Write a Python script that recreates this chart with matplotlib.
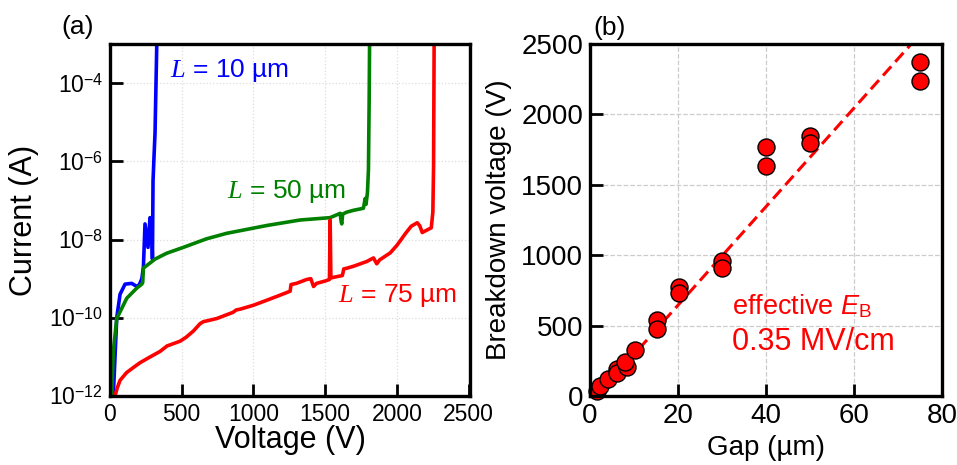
import numpy as np
import matplotlib
matplotlib.use("Agg")
import matplotlib.pyplot as plt

plt.rcParams['font.family'] = ['Liberation Sans', 'DejaVu Sans']
plt.rcParams['mathtext.fontset'] = 'custom'
plt.rcParams['mathtext.rm'] = 'Liberation Sans'
plt.rcParams['mathtext.it'] = 'Liberation Serif:italic'
plt.rcParams['mathtext.sf'] = 'Liberation Sans:italic'
plt.rcParams['mathtext.bf'] = 'Liberation Sans'

# ---- Panel (a) data: voltage (V), log10 current (A) ----
v_10um = [23, 47, 70, 105, 151, 187, 205, 222, 233, 244, 265, 279, 291, 296, 300, 307, 314, 326, 330]
logi_10um = [-12, -10.0, -9.4, -9.14, -9.12, -9.2, -9.15, -9.0, -8.7, -7.6, -8.2, -7.44, -7.7, -8.5, -6.5,
             -5.87, -5.27, -3.03, -2.9]

v_50um = [12, 23, 47, 117, 187, 222, 228, 233, 314, 395, 511, 674, 814, 1094, 1326, 1535, 1605, 1612, 1616,
          1622, 1650, 1700, 1767, 1779, 1785, 1795, 1802, 1807, 1810]
logi_50um = [-12, -10.86, -10.02, -9.5, -9.24, -9.14, -9.1, -8.73, -8.5, -8.35, -8.2, -7.98, -7.84, -7.64,
             -7.5, -7.44, -7.33, -7.55, -7.6, -7.35, -7.3, -7.25, -7.2, -6.95, -7.1, -6.8, -6.21, -4.41, -2.9]

v_75um = [35, 50, 70, 116, 160, 209, 280, 349, 398, 488, 530, 581, 628, 651, 744, 858, 880, 907, 1000, 1094,
          1180, 1256, 1262, 1300, 1372, 1400, 1419, 1440, 1500, 1530, 1535, 1540, 1620, 1630, 1654, 1700, 1791,
          1837, 1860, 1880, 1954, 2000, 2024, 2059, 2100, 2142, 2160, 2177, 2219, 2240, 2251, 2256, 2260]
logi_75um = [-12, -11.8, -11.6, -11.4, -11.28, -11.15, -11.0, -10.86, -10.72, -10.6, -10.5, -10.34, -10.15,
             -10.1, -10.02, -9.86, -9.8, -9.78, -9.68, -9.55, -9.43, -9.32, -9.15, -9.12, -9.02, -9.0, -9.2,
             -9.12, -9.06, -9.02, -7.5, -8.98, -8.92, -8.75, -8.73, -8.68, -8.56, -8.47, -8.62, -8.52, -8.34,
             -8.15, -8.03, -7.85, -7.66, -7.57, -7.65, -7.82, -7.74, -7.7, -7.3, -6.13, -2.9]

# ---- Panel (b) data: gap (um), breakdown voltage (V) ----
gap_um = [1.5, 2.3, 4.1, 6.1, 6.1, 8.4, 8.0, 10.2, 15.2, 15.2, 20.2, 20.2, 30.1, 30.1, 40.1, 40.1, 50, 50, 74.9, 74.9]
vbd = [36, 71, 120, 190, 166, 206, 241, 327, 540, 476, 776, 733, 958, 911, 1770, 1633, 1846, 1799, 2371, 2237]
fit_gap = [0, 80]
fit_slope = 35.0   # V/um  (0.35 MV/cm)
fit_offset = -55.0

W, H = 957, 465
fig = plt.figure(figsize=(W / 100, H / 100), dpi=100)

def px_axes(x0, y0, x1, y1):
    return fig.add_axes([x0 / W, 1 - y1 / H, (x1 - x0) / W, (y1 - y0) / H])

spine_w = 2.4
axa = px_axes(110, 44, 470, 396)
axb = px_axes(590, 44, 942, 396)

# Panel (a)
lw = 2.6
axa.plot(v_10um, 10.0 ** np.array(logi_10um), color='#0000ff', lw=lw)
axa.plot(v_50um, 10.0 ** np.array(logi_50um), color='#008000', lw=lw)
axa.plot(v_75um, 10.0 ** np.array(logi_75um), color='#ff0000', lw=lw)
axa.set_yscale('log')
axa.set_xlim(0, 2510)
axa.set_ylim(1e-12, 1e-3)
axa.set_xticks([0, 500, 1000, 1500, 2000, 2500])
axa.set_yticks([1e-12, 1e-10, 1e-8, 1e-6, 1e-4])
axa.set_yticklabels([r'$\mathrm{10}^{\mathrm{-12}}$', r'$\mathrm{10}^{\mathrm{-10}}$', r'$\mathrm{10}^{\mathrm{-8}}$',
                     r'$\mathrm{10}^{\mathrm{-6}}$', r'$\mathrm{10}^{\mathrm{-4}}$'])
axa.yaxis.set_minor_locator(matplotlib.ticker.NullLocator())
axa.tick_params(axis='both', which='major', direction='in', length=9, width=2, labelsize=16.5, pad=5)
axa.grid(True, color='#dddddd', linestyle=':', linewidth=0.9)
axa.set_xlabel('Voltage (V)', fontsize=22)
axa.set_ylabel('Current (A)', fontsize=22)
axa.xaxis.set_label_coords(0.5, -0.082)
axa.yaxis.set_label_coords(-0.197, 0.5)
for s in axa.spines.values():
    s.set_linewidth(spine_w)

axa.text(419, 10 ** -3.68, r'$\mathit{L}$ = 10 µm', color='#0000ff', fontsize=19, va='center', ha='left')
axa.text(814, 10 ** -6.78, r'$\mathit{L}$ = 50 µm', color='#008000', fontsize=19, va='center', ha='left')
axa.text(1593, 10 ** -9.44, r'$\mathit{L}$ = 75 µm', color='#ff0000', fontsize=19, va='center', ha='left')

# Panel (b)
fx = np.array(fit_gap, dtype=float)
axb.plot(fx, fit_slope * fx + fit_offset, color='#ff0000', lw=2.2, linestyle=(0, (4, 2)), zorder=2)
axb.scatter(gap_um, vbd, s=150, facecolor='#ff0000', edgecolor='black', linewidth=1.0, zorder=3, clip_on=False)
axb.set_xlim(0, 80)
axb.set_ylim(0, 2500)
axb.set_xticks([0, 20, 40, 60, 80])
axb.set_yticks([0, 500, 1000, 1500, 2000, 2500])
axb.tick_params(axis='both', which='major', direction='in', length=9, width=2, labelsize=20, pad=5)
axb.grid(True, color='#cccccc', linestyle='--', linewidth=0.9)
axb.set_axisbelow(True)
axb.set_xlabel('Gap (µm)', fontsize=20)
axb.set_ylabel('Breakdown voltage (V)', fontsize=20)
axb.xaxis.set_label_coords(0.5, -0.11)
axb.yaxis.set_label_coords(-0.222, 0.5)
for s in axb.spines.values():
    s.set_linewidth(spine_w)
    s.set_zorder(5)

axb.text(32.2, 639, r'effective $\mathsf{E}_{\mathbf{B}}$', color='#ff0000', fontsize=19.5, va='center', ha='left')
axb.text(32.2, 385, '0.35 MV/cm', color='#ff0000', fontsize=22, va='center', ha='left')

fig.text(78 / W, 1 - 27 / H, '(a)', fontsize=19, ha='center', va='center')
fig.text(610 / W, 1 - 28 / H, '(b)', fontsize=19, ha='center', va='center')

fig.savefig('out.png', dpi=100)
